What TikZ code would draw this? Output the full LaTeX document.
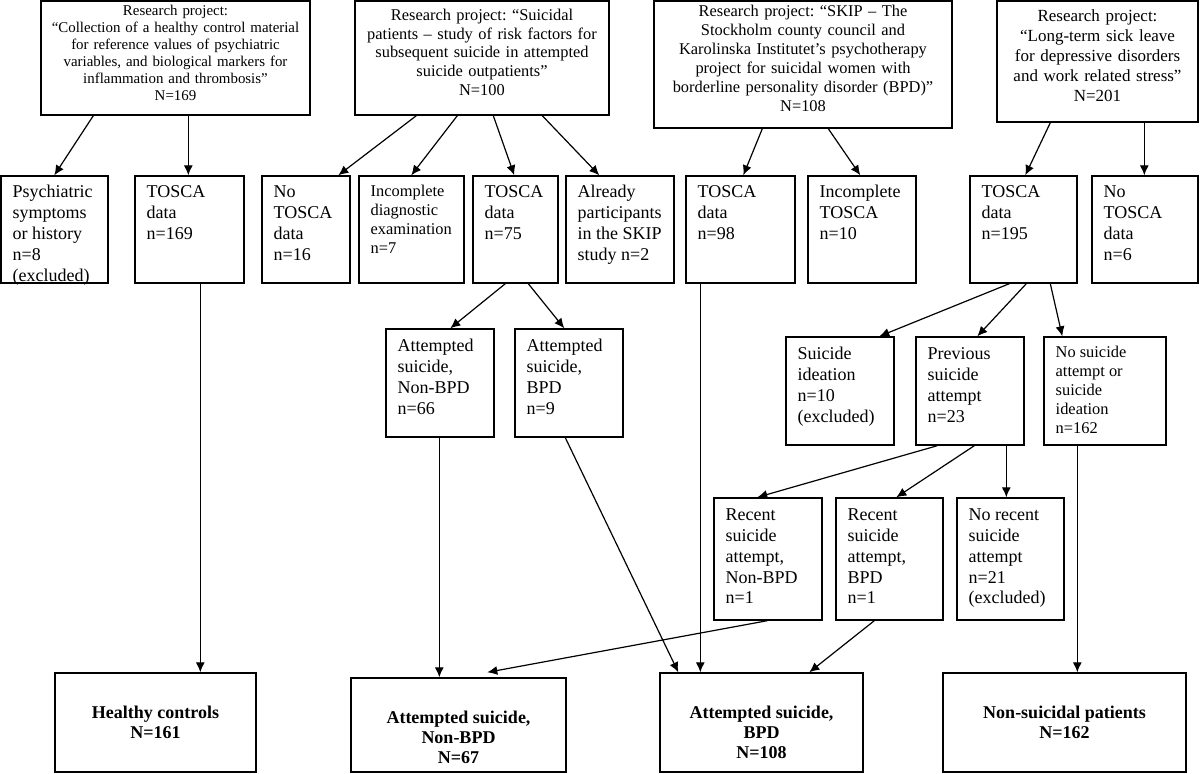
\documentclass[tikz,border=0pt]{standalone}
\usepackage{fontspec}
\setmainfont{Liberation Serif}
\usetikzlibrary{arrows.meta,calc,fit}
\frenchspacing
\newcommand\rbox[7][]{%
  \node[box, fit={(#3,#4) (#5,#6)}] (#2) {};
  \node[tl,#1] (#2t) at ($(#2.north west)+(12,7.3)$) {\strut #7};
}
\newcommand\hbx[6]{%
  \node[box, fit={(#2,#3) (#4,#5)}] (#1) {};
  \node[bt] (#1t) at ($(#1.north)+(0,32)$) {\strut #6};
}
\begin{document}
\begin{tikzpicture}[x=0.5pt,y=-0.5pt,
  box/.style={draw, line width=0.7pt, inner sep=0pt},
  tl/.style={anchor=north west, align=left, inner sep=0pt, font=\fontsize{9}{10.5}\selectfont},
  mid/.style={font=\fontsize{9}{10.4}\selectfont, yshift=-0.55pt},
  small/.style={font=\fontsize{8.2}{9.5}\selectfont, yshift=-0.2pt},
  bt/.style={anchor=north, align=center, inner sep=0pt, font=\fontsize{9}{10}\selectfont\bfseries},
  arr/.style={line width=0.6pt, -{Latex[length=5pt,width=4.5pt]}}]
\useasboundingbox (0,0) rectangle (1200,773);
\fill[white] (0,0) rectangle (1200,773);
% top row
\node[box, fit={(41,1) (310,115)}, align=center, font=\fontsize{7.45}{8.5}\selectfont] (T1)
 {Research project:\\“Collection of a healthy control material\\for reference values of psychiatric\\variables, and biological markers for\\inflammation and thrombosis”\\N=169};
\node[box, fit={(355,1) (609,115)}, align=center, font=\fontsize{8.2}{9.35}\selectfont] (T2)
 {Research project: “Suicidal\\patients – study of risk factors for\\subsequent suicide in attempted\\suicide outpatients”\\N=100};
\node[box, fit={(654,1) (952,128)}, align=center, font=\fontsize{8.2}{9.5}\selectfont] (T3)
 {Research project: “SKIP – The\\Stockholm county council and\\Karolinska Institutet’s psychotherapy\\project for suicidal women with\\borderline personality disorder (BPD)”\\N=108};
\node[box, fit={(997,1) (1198,122)}, align=center, font=\fontsize{8.5}{10}\selectfont] (T4)
 {Research project:\\“Long-term sick leave\\for depressive disorders\\and work related stress”\\N=201};
% row 2
\rbox{A1}{1}{176}{108}{283}{Psychiatric\\symptoms\\or history\\n=8\\(excluded)}
\rbox{A2}{135}{176}{244}{283}{TOSCA\\data\\n=169}
\rbox{A3}{262}{176}{350}{283}{No\\TOSCA\\data\\n=16}
\rbox[small]{A4}{359}{176}{464}{283}{Incomplete\\diagnostic\\examination\\n=7}
\rbox{A5}{473}{176}{558}{283}{TOSCA\\data\\n=75}
\rbox{A6}{566}{176}{674}{283}{Already\\participants\\in the SKIP\\study n=2}
\rbox{B1}{686}{176}{795}{283}{TOSCA\\data\\n=98}
\rbox{B2}{808}{176}{916}{283}{Incomplete\\TOSCA\\n=10}
\rbox{C1}{970}{176}{1077}{283}{TOSCA\\data\\n=195}
\rbox{C2}{1092}{176}{1198}{283}{No\\TOSCA\\data\\n=6}
% row 3
\rbox[mid]{D1}{386}{329}{494}{437}{Attempted\\suicide,\\Non-BPD\\n=66}
\rbox[mid]{D2}{515}{329}{623}{437}{Attempted\\suicide,\\BPD\\n=9}
\rbox[mid]{F1}{786}{337}{894}{445}{Suicide\\ideation\\n=10\\(excluded)}
\rbox[mid]{F2}{916}{337}{1024}{445}{Previous\\suicide\\attempt\\n=23}
\rbox[small]{F3}{1044}{337}{1166}{445}{No suicide\\attempt or\\suicide\\ideation\\n=162}
% row 4
\rbox[mid]{E1}{714}{498}{822}{620}{Recent\\suicide\\attempt,\\Non-BPD\\n=1}
\rbox[mid]{E2}{836}{498}{943}{620}{Recent\\suicide\\attempt,\\BPD\\n=1}
\rbox[mid]{E3}{957}{498}{1064}{620}{No recent\\suicide\\attempt\\n=21\\(excluded)}
% bottom
\hbx{H1}{55}{673}{256}{772}{Healthy controls\\N=161}
\hbx{H2}{351}{678}{566}{772}{Attempted suicide,\\Non-BPD\\N=67}
\hbx{H3}{660}{673}{863}{772}{Attempted suicide,\\BPD\\N=108}
\hbx{H4}{943}{673}{1186}{772}{Non-suicidal patients\\N=162}
% connectors
\draw[arr] ($(T1.south west)+(53,0)$) -- ($(A1.north west)+(54,0)$);
\draw[arr] ($(T1.south west)+(148,0)$) -- ($(A2.north west)+(54,0)$);
\draw[arr] ($(T2.south west)+(62,0)$) -- ($(A3.north west)+(77,0)$);
\draw[arr] ($(T2.south west)+(103,0)$) -- ($(A4.north west)+(53,0)$);
\draw[arr] ($(T2.south west)+(139,0)$) -- ($(A5.north west)+(42,0)$);
\draw[arr] ($(T2.south west)+(188,0)$) -- ($(A6.north west)+(34,0)$);
\draw[arr] ($(T3.south west)+(109,0)$) -- ($(B1.north west)+(58,0)$);
\draw[arr] ($(T3.south west)+(175,0)$) -- ($(B2.north west)+(53,0)$);
\draw[arr] ($(T4.south west)+(54,0)$) -- ($(C1.north west)+(56,0)$);
\draw[arr] ($(T4.south west)+(148,0)$) -- ($(C2.north west)+(53,0)$);
\draw[arr] ($(A2.south west)+(66,0)$) -- ($(H1.north west)+(146,0)$);
\draw[arr] ($(A5.south west)+(33,0)$) -- ($(D1.north west)+(65,0)$);
\draw[arr] ($(A5.south west)+(56,0)$) -- ($(D2.north west)+(50,0)$);
\draw[arr] ($(C1.south west)+(40,0)$) -- ($(F1.north west)+(94,0)$);
\draw[arr] ($(C1.south west)+(57,0)$) -- ($(F2.north west)+(62,0)$);
\draw[arr] ($(C1.south west)+(81,0)$) -- ($(F3.north west)+(19,0)$);
\draw[arr] ($(D1.south west)+(54,0)$) -- ($(H2.north west)+(89,0)$);
\draw[arr] ($(D2.south west)+(51,0)$) -- ($(H3.north west)+(19,0)$);
\draw[arr] ($(B1.south west)+(15,0)$) -- ($(H3.north west)+(41,0)$);
\draw[arr] ($(F2.south west)+(22,0)$) -- ($(E1.north west)+(44,0)$);
\draw[arr] ($(F2.south west)+(59,0)$) -- ($(E2.north west)+(61,0)$);
\draw[arr] ($(F2.south west)+(91,0)$) -- ($(E3.north west)+(50,0)$);
\draw[arr] ($(E1.south west)+(54,0)$) -- ($(H2.north west)+(137,-5)$);
\draw[arr] ($(E2.south west)+(39,0)$) -- ($(H3.north west)+(150,0)$);
\draw[arr] ($(F3.south west)+(34,0)$) -- ($(H4.north west)+(135,0)$);
\end{tikzpicture}
\end{document}
